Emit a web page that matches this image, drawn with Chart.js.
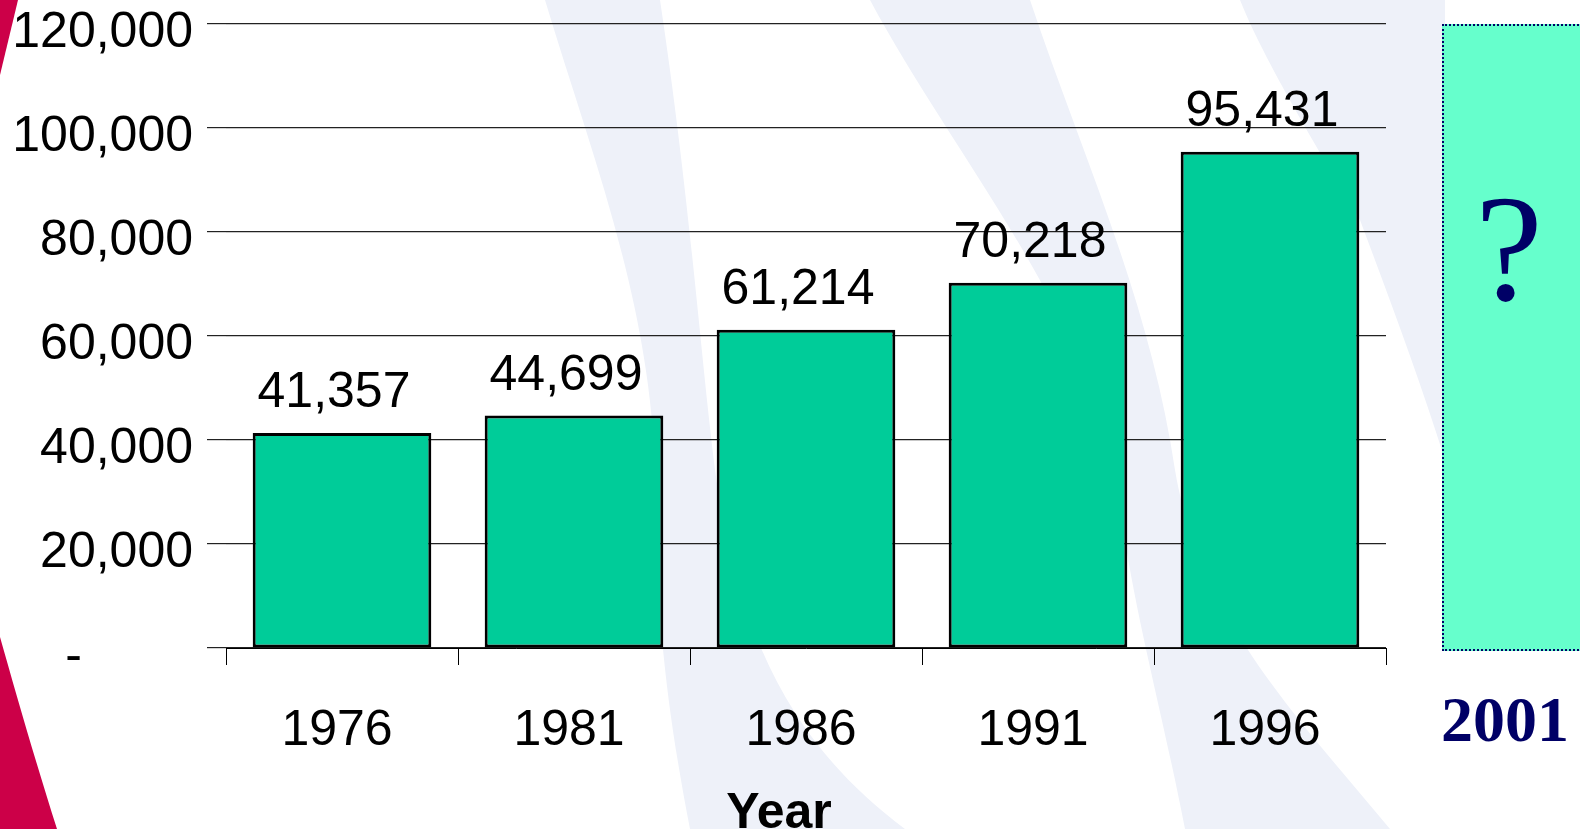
<!DOCTYPE html>
<html>
<head>
<meta charset="utf-8">
<title>Year chart</title>
<script src="https://cdn.jsdelivr.net/npm/chart.js@4.4.1/dist/chart.umd.min.js"></script>
<style>
  html, body { margin: 0; padding: 0; background: #fff; }
  #wrap { position: relative; width: 1580px; height: 829px; overflow: hidden; background: #fff; }
  #bg { position: absolute; left: 0; top: 0; }
  #chart { position: absolute; left: 0; top: 0; }
  #nextBox {
    position: absolute; left: 1442px; top: 24px; width: 160px; height: 623px;
    background: #66FFCC; border: 2px dotted #000066;
  }
  #question {
    position: absolute; left: 1449px; width: 120px; top: 162px; text-align: center;
    font: 152px "Liberation Serif", "DejaVu Serif", serif; color: #000066;
  }
  #nextYear {
    position: absolute; left: 1440px; width: 130px; top: 683px; text-align: center;
    font: bold 64px "Liberation Serif", "DejaVu Serif", serif; color: #000066;
  }
</style>
</head>
<body>
<div id="wrap">
  <svg id="bg" width="1580" height="829">
    <!-- faint wavy bands behind the chart -->
    <path fill="#EEF1F9" d="M545,0 L660,0 C690,200 700,350 715,470 C740,650 800,750 905,829 L690,829 C665,700 655,600 655,470 C650,300 590,150 545,0 Z"/>
    <path fill="#EEF1F9" d="M870,0 L1030,0 C1080,150 1150,300 1175,470 C1200,620 1300,720 1390,829 L1185,829 C1160,700 1130,600 1115,470 C1080,300 950,150 870,0 Z"/>
    <path fill="#EEF1F9" d="M1240,0 L1445,0 L1445,460 C1420,380 1390,300 1360,220 C1300,120 1260,50 1240,0 Z"/>
    <!-- red corner shapes -->
    <path fill="#CC0048" d="M0,0 L18,0 C12,25 6,50 0,75 Z"/>
    <path fill="#CC0048" d="M0,637 C15,690 35,760 57,829 L0,829 Z"/>
  </svg>
  <canvas id="chart" width="1580" height="829"></canvas>
  <div id="nextBox"></div>
  <div id="question">?</div>
  <div id="nextYear">2001</div>
</div>

<script>
const years = ['1976', '1981', '1986', '1991', '1996'];
const counts = [41357, 44699, 61214, 70218, 95431];
const yMax = 120000;
const yStep = 20000;
const xTitle = 'Year';

function el(id) { return document.getElementById(id); }

function formatCount(v) {
  // zero shows as a dash, accounting style
  if (v === 0) return '-        ';
  return Number(v).toLocaleString('en-US');
}

const sansFont = '"Liberation Sans", Arial, sans-serif';

// value labels above bars
const barLabels = {
  id: 'barLabels',
  afterDatasetsDraw(chart) {
    const ctx = chart.ctx;
    const meta = chart.getDatasetMeta(0);
    ctx.save();
    ctx.font = '50px ' + sansFont;
    ctx.fillStyle = '#000';
    ctx.textAlign = 'center';
    ctx.textBaseline = 'alphabetic';
    meta.data.forEach((bar, i) => {
      ctx.fillText(formatCount(counts[i]), bar.x - 8, bar.y - 26);
    });
    ctx.restore();
  }
};

// axis title sits a bit left of centre in the original
const axisTitle = {
  id: 'axisTitle',
  afterDraw(chart) {
    const ctx = chart.ctx;
    ctx.save();
    ctx.font = 'bold 50px ' + sansFont;
    ctx.fillStyle = '#000';
    ctx.textAlign = 'center';
    ctx.textBaseline = 'alphabetic';
    ctx.fillText(xTitle, 779, 828);
    ctx.restore();
  }
};

new Chart(el('chart').getContext('2d'), {
  type: 'bar',
  data: {
    labels: years,
    datasets: [{
      label: 'Count',
      data: counts,
      backgroundColor: '#00CC99',
      borderColor: '#000',
      borderWidth: 3,
      borderSkipped: false,
      categoryPercentage: 1,
      barPercentage: 0.77
    }]
  },
  options: {
    responsive: false,
    animation: false,
    layout: { padding: { top: 24, right: 194, left: 0, bottom: 0 } },
    plugins: {
      legend: { display: false },
      tooltip: { enabled: false },
      title: { display: false }
    },
    scales: {
      x: {
        grid: {
          offset: true,
          drawOnChartArea: false,
          drawTicks: true,
          tickLength: 17,
          color: '#000',
          lineWidth: 1
        },
        border: { display: true, color: '#000', width: 1 },
        ticks: {
          color: '#000',
          font: { family: sansFont, size: 50, lineHeight: 1 },
          padding: 41,
          labelOffset: -5,
          maxRotation: 0,
          autoSkip: false
        },
        afterFit(scale) { scale.height = 181; }
      },
      y: {
        min: 0,
        max: yMax,
        grid: {
          color: '#222',
          lineWidth: 1.2,
          drawTicks: true,
          tickLength: 19
        },
        border: { display: false },
        ticks: {
          stepSize: yStep,
          color: '#000',
          // small line height keeps the top label from pushing the plot down
          font: { family: sansFont, size: 50, lineHeight: 0.4 },
          padding: 14,
          labelOffset: 9,
          callback: (v) => formatCount(v)
        },
        afterFit(scale) { scale.width = 226; }
      }
    }
  },
  plugins: [barLabels, axisTitle]
});
</script>
</body>
</html>
